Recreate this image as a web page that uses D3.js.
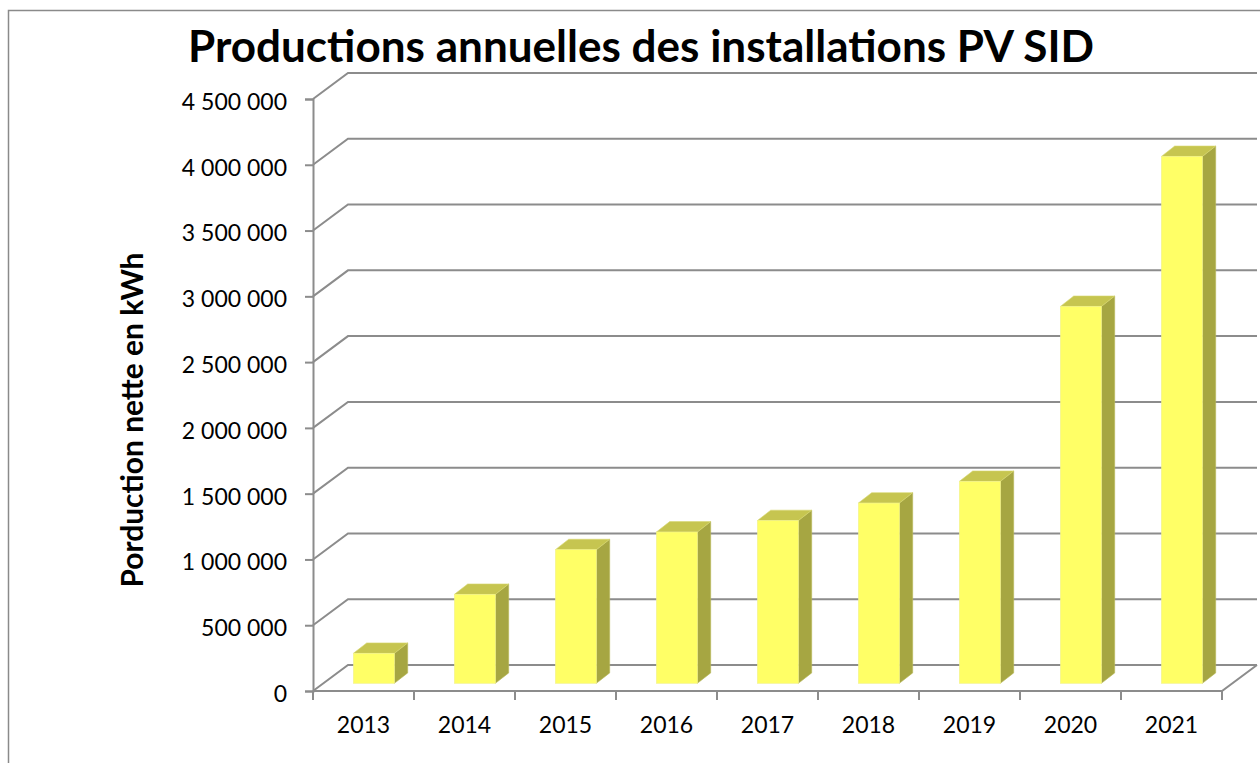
<!DOCTYPE html>
<html>
<head>
<meta charset="utf-8">
<script src="https://cdn.jsdelivr.net/npm/d3@7"></script>
<style>
  body { margin: 0; background: #fff; }
  svg { display: block; }
  text { font-family: Lato, "Open Sans", sans-serif; fill: #000; }
</style>
</head>
<body>
<div id="container"></div>
<script>
// Data
const years = ["2013", "2014", "2015", "2016", "2017", "2018", "2019", "2020", "2021"];
const production = [228000, 676000, 1016000, 1150000, 1237000, 1370000, 1535000, 2865000, 4005000];
const yTicks = [0, 500000, 1000000, 1500000, 2000000, 2500000, 3000000, 3500000, 4000000, 4500000];

const dataset = years.map((y, i) => ({ year: y, value: production[i] }));

// Constants
const width = 1260;
const height = 763;
const plotLeft = 313;
const plotRight = 1222;
const plotBottom = 691;
const plotTop = 99;
const depthX = 35;
const depthY = -26;
const gridColor = "#8c8c8c";

// Scales
const xScale = d3
  .scaleBand()
  .domain(years)
  .range([plotLeft, plotRight])
  .paddingInner(0.594)
  .paddingOuter(0.297);

const yScale = d3.scaleLinear().domain([0, 4500000]).range([plotBottom, plotTop]);

const fmt = (v) => d3.format(",")(v).replace(/,/g, " ");

// Big SVG
const svg = d3
  .select("#container")
  .append("svg")
  .attr("width", width)
  .attr("height", height);

// chart frame (runs off the right and bottom)
svg
  .append("path")
  .attr("d", `M8.5,${height + 5} L8.5,10.5 L${width + 5},10.5`)
  .attr("fill", "none")
  .attr("stroke", "#8a8a8a")
  .attr("stroke-width", 1.5);

// Title
svg
  .append("text")
  .attr("x", 641)
  .attr("y", 62)
  .attr("text-anchor", "middle")
  .attr("font-size", 44)
  .attr("font-weight", 700)
  .attr("textLength", 906)
  .attr("lengthAdjust", "spacingAndGlyphs")
  .text("Productions annuelles des installations PV SID");

// Y axis title
svg
  .append("text")
  .attr("transform", "translate(143,420) rotate(-90)")
  .attr("text-anchor", "middle")
  .attr("font-size", 31)
  .attr("font-weight", 700)
  .attr("textLength", 335)
  .attr("lengthAdjust", "spacingAndGlyphs")
  .text("Porduction nette en kWh");

// Back wall gridlines + left wall diagonals
const grid = svg.append("g").attr("id", "grid");

grid
  .selectAll("path")
  .data(yTicks)
  .enter()
  .append("path")
  .attr("d", (d) => {
    const y = yScale(d);
    return `M${plotLeft},${y} L${plotLeft + depthX},${y + depthY} L${plotRight + depthX},${y + depthY}`;
  })
  .attr("fill", "none")
  .attr("stroke", gridColor)
  .attr("stroke-width", 2);

// floor front edge and right edge
grid
  .append("path")
  .attr("d", `M${plotLeft},${plotBottom} L${plotRight},${plotBottom} L${plotRight + depthX},${plotBottom + depthY}`)
  .attr("fill", "none")
  .attr("stroke", gridColor)
  .attr("stroke-width", 2);

// Y axis
const yAxis = d3
  .axisLeft(yScale)
  .tickValues(yTicks)
  .tickSize(8)
  .tickFormat(fmt);

const gy = svg
  .append("g")
  .attr("id", "y-axis")
  .attr("transform", `translate(${plotLeft},0)`)
  .call(yAxis);

gy.select(".domain").attr("stroke", gridColor).attr("stroke-width", 2);
gy.selectAll(".tick line").attr("stroke", gridColor).attr("stroke-width", 2);
gy.selectAll(".tick text")
  .attr("x", -26)
  .attr("dy", "0.45em")
  .attr("font-size", 23)
  .attr("font-family", "Lato, sans-serif")
  .attr("fill", "#000");

// X axis (ticks between categories)
const xAxis = svg.append("g").attr("id", "x-axis");

xAxis
  .selectAll("line")
  .data(d3.range(years.length + 1))
  .enter()
  .append("line")
  .attr("x1", (i) => plotLeft + i * xScale.step())
  .attr("x2", (i) => plotLeft + i * xScale.step())
  .attr("y1", plotBottom)
  .attr("y2", plotBottom + 9)
  .attr("stroke", gridColor)
  .attr("stroke-width", 2);

xAxis
  .selectAll("text")
  .data(years)
  .enter()
  .append("text")
  .attr("x", (d) => xScale(d) + xScale.bandwidth() / 2)
  .attr("y", 733)
  .attr("text-anchor", "middle")
  .attr("font-size", 23)
  .text((d) => d);

// 3D bars
const bw = xScale.bandwidth();
const offX = 10.4; // front face pushed into the depth
const offY = -7.7;
const bdX = 13.3; // bar depth
const bdY = -10.4;

const bars = svg
  .append("g")
  .attr("id", "bars")
  .selectAll("g")
  .data(dataset)
  .enter()
  .append("g")
  .attr("class", "bar");

// side
bars
  .append("path")
  .attr("d", (d) => {
    const x = xScale(d.year) + offX + bw;
    const yt = yScale(d.value) + offY;
    const yb = plotBottom + offY;
    return `M${x},${yt} L${x + bdX},${yt + bdY} L${x + bdX},${yb + bdY} L${x},${yb} Z`;
  })
  .attr("fill", "#a6a642")
  .attr("stroke", "#b8b85a")
  .attr("stroke-width", 0.6);

// top
bars
  .append("path")
  .attr("d", (d) => {
    const x = xScale(d.year) + offX;
    const yt = yScale(d.value) + offY;
    return `M${x},${yt} L${x + bw},${yt} L${x + bw + bdX},${yt + bdY} L${x + bdX},${yt + bdY} Z`;
  })
  .attr("fill", "#c6c550")
  .attr("stroke", "#d8d870")
  .attr("stroke-width", 0.6);

// front
bars
  .append("rect")
  .attr("x", (d) => xScale(d.year) + offX)
  .attr("y", (d) => yScale(d.value) + offY)
  .attr("width", bw)
  .attr("height", (d) => plotBottom - yScale(d.value))
  .attr("fill", "#ffff66")
  .attr("stroke", "#f2f28a")
  .attr("stroke-width", 0.6);
</script>
</body>
</html>
